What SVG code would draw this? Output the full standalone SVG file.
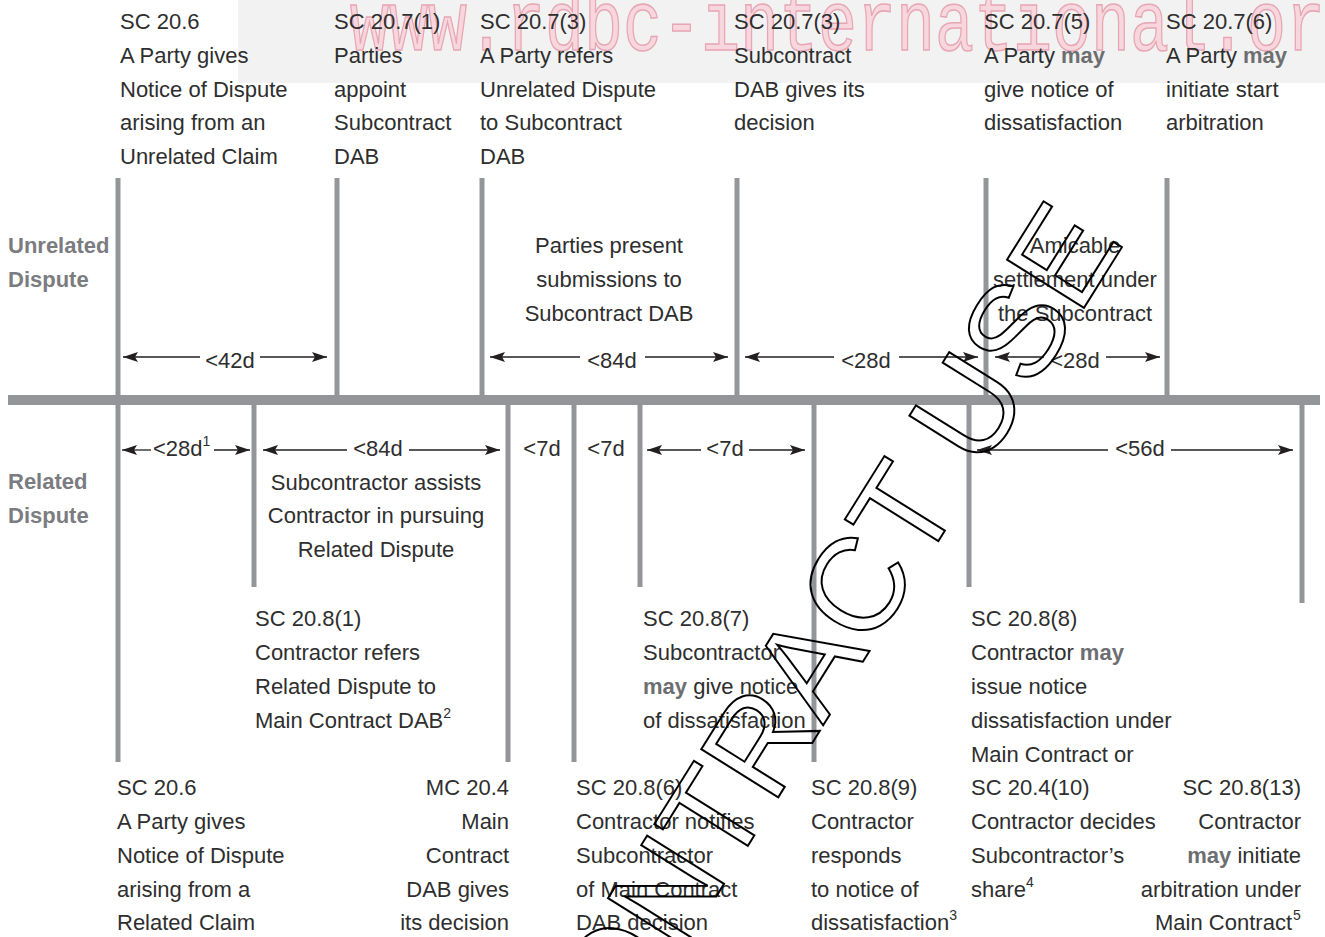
<svg xmlns="http://www.w3.org/2000/svg" width="1325" height="937" viewBox="0 0 1325 937">
<style>
.t{font-family:"Liberation Sans",Arial,Helvetica,sans-serif;font-size:22px;fill:#2e2e2e}
.c{text-anchor:middle}
.e{text-anchor:end}
.m{font-weight:bold;fill:#6d6e71}
.lbl{font-family:"Liberation Sans",Arial,Helvetica,sans-serif;font-size:22px;font-weight:bold;fill:#7b7c7f}
.v{stroke:#949599;stroke-width:5;fill:none}
.a{stroke:#231f20;stroke-width:1.3;fill:none;marker-end:url(#ah)}
.sup{font-size:14px}
.wm{font-family:"Liberation Mono","Courier New",monospace;font-size:65px;fill:#f7d6dd;stroke:#e7a6b4;stroke-width:1.2}
.wm2{font-family:"Liberation Sans",Arial,Helvetica,sans-serif;font-size:132px;fill:none;stroke:#000;stroke-width:2}
</style>
<defs>
<marker id="ah" markerUnits="userSpaceOnUse" markerWidth="16" markerHeight="12" refX="15" refY="5" orient="auto">
<path d="M0,0 L15,5 L0,10 L3,5 z" fill="#231f20"/>
</marker>
</defs>
<rect width="1325" height="937" fill="#fff"/>
<g id="watermark-band">
<rect x="238" y="0" width="1087" height="83" fill="#f2f2f2"/>
<text class="wm" x="350" y="50" transform="translate(0,-15) scale(1,1.3)">www.rdbc-international.org</text>
</g>

<g id="timeline">
<rect x="8" y="395" width="1312" height="10" fill="#949599"/>
</g>

<g id="connectors">
<line class="v" x1="118" y1="178" x2="118" y2="762"/>
<line class="v" x1="337" y1="178" x2="337" y2="395"/>
<line class="v" x1="482" y1="178" x2="482" y2="395"/>
<line class="v" x1="737" y1="178" x2="737" y2="395"/>
<line class="v" x1="986" y1="178" x2="986" y2="395"/>
<line class="v" x1="1167" y1="178" x2="1167" y2="395"/>
<line class="v" x1="254" y1="405" x2="254" y2="587"/>
<line class="v" x1="508" y1="405" x2="508" y2="762"/>
<line class="v" x1="574" y1="405" x2="574" y2="762"/>
<line class="v" x1="640" y1="405" x2="640" y2="587"/>
<line class="v" x1="814" y1="405" x2="814" y2="762"/>
<line class="v" x1="969" y1="405" x2="969" y2="587"/>
<line class="v" x1="1302" y1="405" x2="1302" y2="603"/>

<path class="a" d="M200,357 L123,357"/>
<path class="a" d="M260,357 L327,357"/>
<path class="a" d="M580,357 L490,357"/>
<path class="a" d="M645,357 L728,357"/>
<path class="a" d="M834,357 L745,357"/>
<path class="a" d="M899,357 L978,357"/>
<path class="a" d="M1044,357 L995,357"/>
<path class="a" d="M1106,357 L1160,357"/>

<path class="a" d="M151,450 L122,450"/>
<path class="a" d="M214,450 L250,450"/>
<path class="a" d="M347,450 L263,450"/>
<path class="a" d="M409,450 L500,450"/>
<path class="a" d="M701,450 L647,450"/>
<path class="a" d="M749,450 L805,450"/>
<path class="a" d="M1108,450 L977,450"/>
<path class="a" d="M1171,450 L1293,450"/>
</g>

<g id="durations">
<text class="t c" x="230" y="368">&lt;42d</text>
<text class="t c" x="612" y="368">&lt;84d</text>
<text class="t c" x="866" y="368">&lt;28d</text>
<text class="t c" x="1075" y="368">&lt;28d</text>
<text class="t" x="153" y="456">&lt;28d<tspan class="sup" dy="-10">1</tspan></text>
<text class="t c" x="378" y="456">&lt;84d</text>
<text class="t c" x="542" y="456">&lt;7d</text>
<text class="t c" x="606" y="456">&lt;7d</text>
<text class="t c" x="725" y="456">&lt;7d</text>
<text class="t c" x="1140" y="456">&lt;56d</text>
</g>

<g id="row-labels">
<text class="lbl" x="8" y="253">Unrelated</text>
<text class="lbl" x="8" y="287">Dispute</text>
<text class="lbl" x="8" y="489">Related</text>
<text class="lbl" x="8" y="523">Dispute</text>
</g>

<g id="n-sc206-top">
<text class="t" x="120" y="29">SC 20.6</text>
<text class="t" x="120" y="63">A Party gives</text>
<text class="t" x="120" y="97">Notice of Dispute</text>
<text class="t" x="120" y="130">arising from an</text>
<text class="t" x="120" y="164">Unrelated Claim</text>
</g>
<g id="n-sc2071">
<text class="t" x="334" y="29">SC 20.7(1)</text>
<text class="t" x="334" y="63">Parties</text>
<text class="t" x="334" y="97">appoint</text>
<text class="t" x="334" y="130">Subcontract</text>
<text class="t" x="334" y="164">DAB</text>
</g>
<g id="n-sc2073a">
<text class="t" x="480" y="29">SC 20.7(3)</text>
<text class="t" x="480" y="63">A Party refers</text>
<text class="t" x="480" y="97">Unrelated Dispute</text>
<text class="t" x="480" y="130">to Subcontract</text>
<text class="t" x="480" y="164">DAB</text>
</g>
<g id="n-sc2073b">
<text class="t" x="734" y="29">SC 20.7(3)</text>
<text class="t" x="734" y="63">Subcontract</text>
<text class="t" x="734" y="97">DAB gives its</text>
<text class="t" x="734" y="130">decision</text>
</g>
<g id="n-sc2075">
<text class="t" x="984" y="29">SC 20.7(5)</text>
<text class="t" x="984" y="63">A Party <tspan class="m">may</tspan></text>
<text class="t" x="984" y="97">give notice of</text>
<text class="t" x="984" y="130">dissatisfaction</text>
</g>
<g id="n-sc2076">
<text class="t" x="1166" y="29">SC 20.7(6)</text>
<text class="t" x="1166" y="63">A Party <tspan class="m">may</tspan></text>
<text class="t" x="1166" y="97">initiate start</text>
<text class="t" x="1166" y="130">arbitration</text>
</g>

<g id="n-submissions">
<text class="t c" x="609" y="253">Parties present</text>
<text class="t c" x="609" y="287">submissions to</text>
<text class="t c" x="609" y="321">Subcontract DAB</text>
</g>
<g id="n-amicable">
<text class="t c" x="1075" y="253">Amicable</text>
<text class="t c" x="1075" y="287">settlement under</text>
<text class="t c" x="1075" y="321">the Subcontract</text>
</g>
<g id="n-assists">
<text class="t c" x="376" y="490">Subcontractor assists</text>
<text class="t c" x="376" y="523">Contractor in pursuing</text>
<text class="t c" x="376" y="557">Related Dispute</text>
</g>

<g id="n-sc2081">
<text class="t" x="255" y="626">SC 20.8(1)</text>
<text class="t" x="255" y="660">Contractor refers</text>
<text class="t" x="255" y="694">Related Dispute to</text>
<text class="t" x="255" y="728">Main Contract DAB<tspan class="sup" dy="-10">2</tspan></text>
</g>
<g id="n-sc2087">
<text class="t" x="643" y="626">SC 20.8(7)</text>
<text class="t" x="643" y="660">Subcontractor</text>
<text class="t" x="643" y="694"><tspan class="m">may</tspan> give notice</text>
<text class="t" x="643" y="728">of dissatisfaction</text>
</g>
<g id="n-sc2088">
<text class="t" x="971" y="626">SC 20.8(8)</text>
<text class="t" x="971" y="660">Contractor <tspan class="m">may</tspan></text>
<text class="t" x="971" y="694">issue notice</text>
<text class="t" x="971" y="728">dissatisfaction under</text>
<text class="t" x="971" y="762">Main Contract or</text>
<text class="t" x="971" y="795">SC 20.4(10)</text>
<text class="t" x="971" y="829">Contractor decides</text>
<text class="t" x="971" y="863">Subcontractor’s</text>
<text class="t" x="971" y="897">share<tspan class="sup" dy="-10">4</tspan></text>
</g>

<g id="n-sc206-bottom">
<text class="t" x="117" y="795">SC 20.6</text>
<text class="t" x="117" y="829">A Party gives</text>
<text class="t" x="117" y="863">Notice of Dispute</text>
<text class="t" x="117" y="897">arising from a</text>
<text class="t" x="117" y="930">Related Claim</text>
</g>
<g id="n-mc204">
<text class="t e" x="509" y="795">MC 20.4</text>
<text class="t e" x="509" y="829">Main</text>
<text class="t e" x="509" y="863">Contract</text>
<text class="t e" x="509" y="897">DAB gives</text>
<text class="t e" x="509" y="930">its decision</text>
</g>
<g id="n-sc2086">
<text class="t" x="576" y="795">SC 20.8(6)</text>
<text class="t" x="576" y="829">Contractor notifies</text>
<text class="t" x="576" y="863">Subcontractor</text>
<text class="t" x="576" y="897">of Main Contract</text>
<text class="t" x="576" y="930">DAB decision</text>
</g>
<g id="n-sc2089">
<text class="t" x="811" y="795">SC 20.8(9)</text>
<text class="t" x="811" y="829">Contractor</text>
<text class="t" x="811" y="863">responds</text>
<text class="t" x="811" y="897">to notice of</text>
<text class="t" x="811" y="930">dissatisfaction<tspan class="sup" dy="-10">3</tspan></text>
</g>
<g id="n-sc20813">
<text class="t e" x="1301" y="795">SC 20.8(13)</text>
<text class="t e" x="1301" y="829">Contractor</text>
<text class="t e" x="1301" y="863"><tspan class="m">may</tspan> initiate</text>
<text class="t e" x="1301" y="897">arbitration under</text>
<text class="t e" x="1292" y="930">Main Contract</text>
<text class="t sup" x="1293" y="920">5</text>
</g>

<g id="watermark-diagonal" transform="translate(806,664) rotate(-58)">
<text class="wm2" x="7" y="47" text-anchor="middle">CONTRACT USE</text>
</g>
</svg>
